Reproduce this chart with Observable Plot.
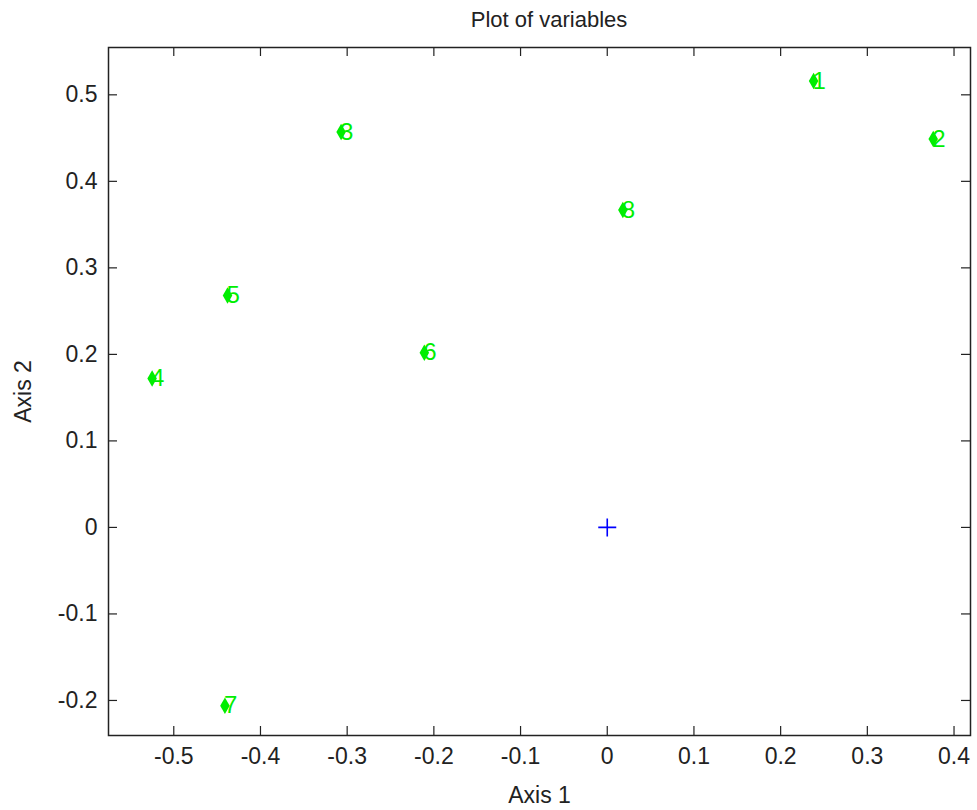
<!DOCTYPE html>
<html>
<head>
<meta charset="utf-8">
<script src="https://cdn.jsdelivr.net/npm/d3@7"></script>
<script src="https://cdn.jsdelivr.net/npm/@observablehq/plot@0.6"></script>
<style>
  html, body { margin: 0; padding: 0; background: #fff; }
  #chart { position: relative; width: 977px; height: 810px; }
  #title { position: absolute; top: 7px; left: 118px; width: 862px; text-align: center;
           font-family: "Liberation Sans", Arial, sans-serif; font-size: 22px; color: #222; }
  #chart svg { position: absolute; top: 0; left: 0; }
</style>
</head>
<body>
<div id="chart"><div id="title">Plot of variables</div></div>
<script>
const varLabels = ["1", "2", "3", "4", "5", "6", "7", "8"];
const axis1 = [0.238, 0.376, -0.307, -0.525, -0.438, -0.211, -0.441, 0.018];
const axis2 = [0.516, 0.449, 0.457, 0.172, 0.268, 0.202, -0.206, 0.367];
const origin = [{x: 0, y: 0}];
const xTicks = [-0.5, -0.4, -0.3, -0.2, -0.1, 0, 0.1, 0.2, 0.3, 0.4];
const yTicks = [-0.2, -0.1, 0, 0.1, 0.2, 0.3, 0.4, 0.5];
const xDomain = [-0.5753, 0.419];
const yDomain = [-0.2405, 0.5547];

const points = varLabels.map((l, i) => ({label: l, x: axis1[i], y: axis2[i]}));

const W = 977, H = 810, mL = 108, mR = 7, mT = 47, mB = 75;
const innerH = H - mT - mB, innerW = W - mL - mR;
const tickLen = 9;

const plusSymbol = {
  draw(ctx, size) {
    const r = Math.sqrt(size / Math.PI);
    ctx.moveTo(-r, 0); ctx.lineTo(r, 0);
    ctx.moveTo(0, -r); ctx.lineTo(0, r);
  }
};
const fmt = d => String(d);

const plot = Plot.plot({
  width: W, height: H,
  marginLeft: mL, marginRight: mR, marginTop: mT, marginBottom: mB,
  style: {fontFamily: "'Liberation Sans', Arial, sans-serif", fontSize: "23px", color: "#222", background: "transparent"},
  x: {domain: xDomain},
  y: {domain: yDomain},
  marks: [
    Plot.frame({stroke: "#222", strokeWidth: 1.5}),
    Plot.tickX(xTicks, {x: d => d, insetTop: innerH - tickLen, stroke: "#222", strokeWidth: 1.2}),
    Plot.tickX(xTicks, {x: d => d, insetBottom: innerH - tickLen, stroke: "#222", strokeWidth: 1.2}),
    Plot.tickY(yTicks, {y: d => d, insetRight: innerW - tickLen, stroke: "#222", strokeWidth: 1.2}),
    Plot.tickY(yTicks, {y: d => d, insetLeft: innerW - tickLen, stroke: "#222", strokeWidth: 1.2}),
    Plot.axisX({ticks: xTicks, tickFormat: fmt, tickSize: 0, tickPadding: 12, fontSize: 23,
                label: "Axis 1", labelAnchor: "center", labelArrow: "none", labelOffset: 67}),
    Plot.axisY({ticks: yTicks, tickFormat: fmt, tickSize: 0, tickPadding: 11, fontSize: 23,
                label: "Axis 2", labelAnchor: "center", labelArrow: "none", labelOffset: 94}),
    Plot.dot(origin, {x: "x", y: "y", symbol: plusSymbol, r: 9, stroke: "#0000ff", strokeWidth: 1.6}),
    Plot.dot(points, {x: "x", y: "y", symbol: "diamond", r: 5, fill: "#00ee00", stroke: "none"}),
    Plot.text(points, {x: "x", y: "y", text: "label", textAnchor: "start", dx: -1, fontSize: 24,
                       fill: "#00ee00", stroke: "none"})
  ]
});
document.getElementById("chart").appendChild(plot);
</script>
</body>
</html>
